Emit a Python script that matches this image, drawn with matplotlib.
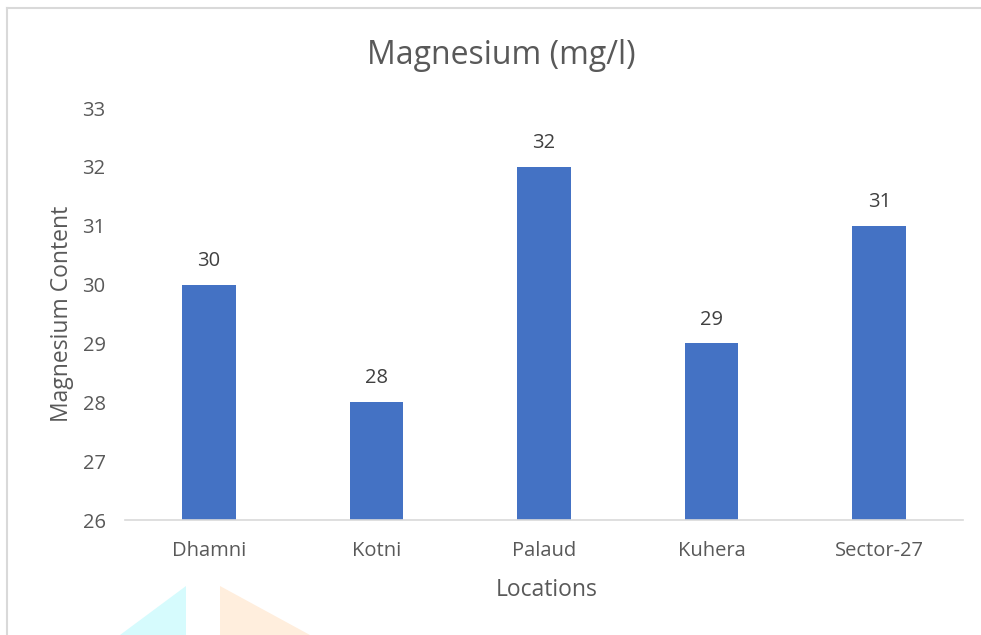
import matplotlib.pyplot as plt
from matplotlib.patches import Polygon
from matplotlib.lines import Line2D

locations = ["Dhamni", "Kotni", "Palaud", "Kuhera", "Sector-27"]
magnesium = [30, 28, 32, 29, 31]
y_ticks = [26, 27, 28, 29, 30, 31, 32, 33]

plt.rcParams["font.family"] = ["Open Sans", "DejaVu Sans"]

W, H = 981, 635
fig = plt.figure(figsize=(W / 100, H / 100), dpi=100)
ax = fig.add_axes([125 / W, 1 - 520 / H, (963 - 125) / W, (520 - 108) / H])

x = list(range(len(locations)))
ax.bar(x, [v - y_ticks[0] for v in magnesium], bottom=y_ticks[0],
       width=0.32, color="#4472C4", zorder=2)
for xi, v in zip(x, magnesium):
    ax.annotate(f"{v}", (xi, v), xytext=(0, 10), textcoords="offset points",
                ha="center", va="bottom", fontsize=14.5, color="#404040")

ax.set_xlim(-0.5, len(locations) - 0.5)
ax.set_ylim(y_ticks[0], y_ticks[-1])
ax.set_yticks(y_ticks)
ax.set_xticks(x)
ax.set_xticklabels(locations)
ax.tick_params(axis="both", length=0, labelsize=14.5, colors="#595959")
ax.tick_params(axis="x", pad=15)
ax.tick_params(axis="y", pad=14)
for s in ["top", "right", "left"]:
    ax.spines[s].set_visible(False)
ax.spines["bottom"].set_color("#d9d9d9")
ax.spines["bottom"].set_linewidth(1.2)

fig.text(501 / W, 1 - 55 / H, "Magnesium (mg/l)", ha="center", va="center",
         fontsize=23, color="#595959")
fig.text(547 / W, 1 - 590 / H, "Locations", ha="center", va="center",
         fontsize=16.5, color="#595959")
fig.text(62 / W, 1 - 314 / H, "Magnesium Content", ha="center", va="center",
         rotation=90, fontsize=16.5, color="#595959")

# chart frame (top and left edges visible)
fig.add_artist(Line2D([7 / W, 7 / W], [0, 1 - 8 / H], transform=fig.transFigure,
                      color="#d9d9d9", lw=1.5))
fig.add_artist(Line2D([7 / W, 1], [1 - 8 / H, 1 - 8 / H], transform=fig.transFigure,
                      color="#d9d9d9", lw=1.5))

# faint watermark shapes at the bottom
fig.add_artist(Polygon([(120 / W, 0), (186 / W, 0), (186 / W, 1 - 586 / H)],
                       closed=True, transform=fig.transFigure, fc="#d6fbfd", ec="none"))
fig.add_artist(Polygon([(220 / W, 0), (310 / W, 0), (220 / W, 1 - 586 / H)],
                       closed=True, transform=fig.transFigure, fc="#ffeedd", ec="none"))

fig.savefig("out.png", dpi=100, facecolor="white")
